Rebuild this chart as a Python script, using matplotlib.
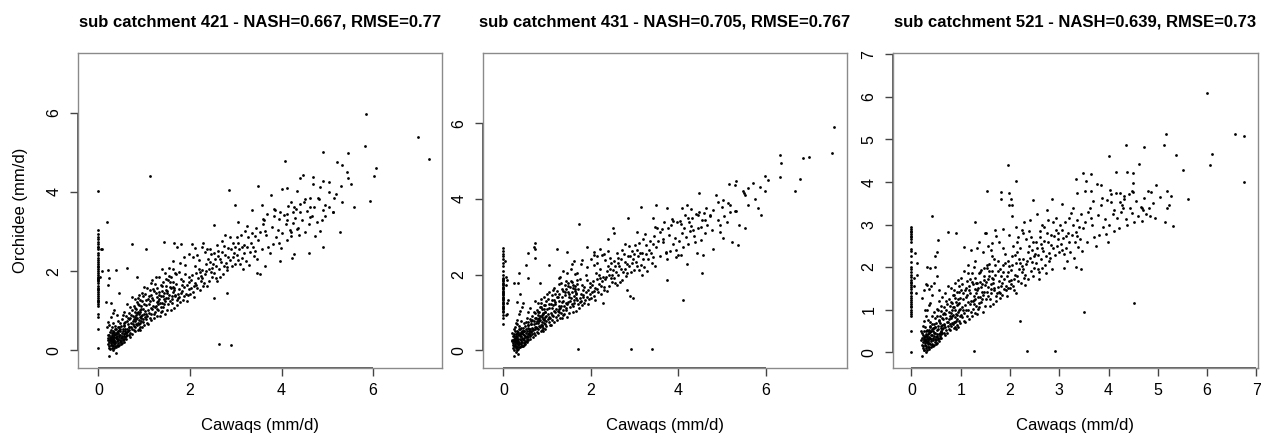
"""Cawaqs vs Orchidee daily runoff scatter, three sub catchments (R-style panels)."""
import numpy as np
import matplotlib
matplotlib.use("Agg")
import matplotlib.pyplot as plt

plt.rcParams["font.family"] = ["Liberation Sans", "DejaVu Sans"]

# ======================= sub catchment 421 =======================
zero_421 = [0.05, 0.55, 0.85, 0.93, 1.12, 1.18, 1.22, 1.25, 1.28, 1.33, 1.38, 1.42,
            1.47, 1.52, 1.55, 1.58, 1.63, 1.70, 1.74, 1.78, 1.80, 1.82, 1.86, 1.90,
            1.95, 2.00, 2.06, 2.10, 2.12, 2.17, 2.22, 2.27, 2.33, 2.40, 2.47, 2.55,
            2.60, 2.62, 2.68, 2.74, 2.80, 2.86, 2.93, 3.05, 4.02]
cloud_421 = [
    (0.31, 0.22), (0.27, 0.35), (0.42, 0.18), (0.36, 0.41), (0.24, 0.12), (0.52, 0.33), (0.29, 0.07), (0.45, 0.52),
    (0.33, 0.28), (0.21, 0.31), (0.39, 0.09), (0.48, 0.26), (0.26, 0.46), (0.57, 0.41), (0.34, 0.16), (0.41, 0.37),
    (0.23, 0.22), (0.61, 0.29), (0.37, 0.55), (0.30, 0.40), (0.46, 0.14), (0.28, 0.19), (0.54, 0.49), (0.35, 0.05),
    (0.43, 0.30), (0.25, 0.27), (0.50, 0.61), (0.32, 0.34), (0.40, 0.23), (0.59, 0.55), (0.22, 0.15), (0.47, 0.39),
    (0.38, 0.31), (0.55, 0.21), (0.29, 0.26), (0.44, 0.44), (0.33, 0.11), (0.63, 0.47), (0.26, 0.03), (0.51, 0.37),
    (0.36, 0.20), (0.42, 0.58), (0.31, 0.48), (0.58, 0.33), (0.24, 0.39), (0.49, 0.17), (0.35, 0.33), (0.66, 0.58),
    (0.28, 0.29), (0.40, 0.45), (0.53, 0.27), (0.30, 0.13), (0.45, 0.33), (0.37, 0.62), (0.62, 0.38), (0.27, 0.23),
    (0.48, 0.50), (0.34, 0.38), (0.56, 0.64), (0.41, 0.14), (0.20, 0.26), (0.60, 0.44), (0.32, 0.21), (0.44, 0.25),
    (0.38, 0.42), (0.68, 0.52), (0.25, 0.33), (0.52, 0.45), (0.35, 0.27), (0.47, 0.21), (0.29, 0.44), (0.64, 0.67),
    (0.39, 0.35), (0.57, 0.30), (0.23, 0.07), (0.43, 0.49), (0.31, 0.30), (0.50, 0.24), (0.36, 0.10), (0.70, 0.45),
    (0.27, 0.52), (0.46, 0.58), (0.33, 0.43), (0.55, 0.36), (0.40, 0.28), (0.62, 0.55), (0.30, 0.35), (0.49, 0.31),
    (0.37, 0.18), (0.66, 0.40), (0.22, 0.40), (0.53, 0.54), (0.34, 0.24), (0.45, 0.40), (0.28, 0.14), (0.59, 0.48),
    (0.41, 0.47), (0.72, 0.60), (0.26, 0.28), (0.51, 0.19), (0.38, 0.53), (0.61, 0.36), (0.32, 0.02), (0.44, 0.12),
    (0.35, 0.46), (0.54, 0.28), (0.23, -0.15), (0.38, -0.07), (0.29, 0.60), (0.48, 0.70), (0.42, 0.75), (0.33, 0.68),
    (0.58, 0.72), (0.67, 0.78), (0.19, 0.60), (0.21, 0.72), (0.24, 0.65), (0.28, 0.85), (0.31, 0.95), (0.35, 1.02),
    (0.40, 0.90), (0.74, 0.55), (0.71, 0.68), (0.65, 0.50), (0.69, 0.33),
    (0.52, 0.78), (0.61, 0.88), (0.57, 0.62), (0.66, 0.95), (0.73, 1.02), (0.69, 0.82), (0.77, 1.12), (0.84, 1.22),
    (0.80, 1.08), (0.92, 1.28), (0.97, 1.38), (0.89, 1.15), (1.02, 1.42), (1.08, 1.30), (1.12, 1.52), (1.16, 1.40),
    (1.22, 1.50), (1.28, 1.58), (1.33, 1.48), (1.37, 1.66), (1.42, 1.72), (1.48, 1.62), (1.53, 1.78), (1.58, 1.85),
    (1.63, 1.72), (1.68, 1.95), (0.48, 0.55), (0.56, 0.70), (0.63, 0.74), (0.71, 0.90), (0.75, 0.66), (0.82, 0.90),
    (0.87, 0.98), (0.94, 1.05), (0.99, 1.16), (1.05, 0.92), (1.11, 1.18), (1.19, 1.28), (1.24, 1.10), (1.31, 1.24),
    (1.36, 1.36), (1.44, 1.30), (1.50, 1.45), (1.56, 1.60), (1.61, 1.36), (1.66, 1.58), (0.59, 0.45), (0.67, 0.60),
    (0.73, 0.42), (0.79, 0.48), (0.64, 0.82), (0.70, 1.10), (0.86, 1.32), (1.00, 1.60), (1.14, 1.70), (1.26, 1.85),
    (1.40, 1.50), (1.47, 1.80), (0.54, 0.90), (0.91, 0.52),
]
band_421 = [
    (0.78, 0.62), (0.91, 0.84), (0.83, 1.05), (0.97, 0.71), (0.76, 0.88), (0.88, 0.55), (0.94, 1.12), (0.81, 0.74),
    (0.99, 0.93), (0.86, 0.68), (0.79, 0.97), (0.92, 0.60), (0.85, 0.81), (0.96, 1.25), (0.77, 0.51), (0.89, 0.92),
    (0.82, 0.66), (0.98, 0.79), (0.87, 1.18), (0.93, 0.73), (0.80, 0.85), (0.95, 0.58), (0.84, 0.94), (0.90, 0.70),
    (0.76, 0.73), (0.97, 1.04), (0.86, 0.52), (0.83, 0.79), (0.92, 0.98), (0.99, 0.65), (0.81, 1.30), (0.88, 0.77),
    (0.94, 0.86), (0.78, 0.80), (0.91, 1.01), (0.85, 0.63), (0.96, 0.90), (0.89, 0.66), (0.80, 0.58), (0.93, 0.82),
    (1.03, 0.78), (1.18, 1.05), (1.09, 0.67), (1.27, 1.22), (1.42, 1.10), (1.14, 0.93), (1.36, 0.96), (1.05, 1.15),
    (1.22, 0.82), (1.48, 1.31), (1.11, 1.38), (1.31, 1.02), (1.45, 0.91), (1.07, 0.88), (1.25, 1.46), (1.39, 1.20),
    (1.16, 0.76), (1.02, 0.99), (1.33, 1.30), (1.47, 1.52), (1.20, 1.12), (1.29, 0.88), (1.13, 1.24), (1.41, 1.36),
    (1.06, 0.70), (1.24, 0.97), (1.37, 1.09), (1.19, 1.55), (1.44, 1.17), (1.10, 0.95), (1.32, 1.41), (1.01, 0.84),
    (1.27, 1.05), (1.49, 1.02), (1.15, 1.08), (1.35, 1.19), (1.21, 0.91), (1.08, 1.02), (1.43, 1.44), (1.26, 1.13),
    (1.12, 0.81), (1.38, 0.99), (1.04, 1.26), (1.30, 1.16), (1.46, 1.25), (1.17, 1.32), (1.23, 1.68), (1.40, 1.62),
    (1.34, 0.87), (1.28, 1.34),
    (1.52, 1.18), (1.68, 1.36), (1.59, 1.02), (1.77, 1.55), (1.91, 1.43), (1.63, 1.61), (1.84, 1.28), (1.55, 1.40),
    (1.72, 1.15), (1.97, 1.72), (1.61, 1.29), (1.80, 1.80), (1.94, 1.25), (1.57, 1.73), (1.75, 1.42), (1.88, 1.60),
    (1.66, 1.08), (1.53, 1.33), (1.83, 1.50), (1.99, 1.55), (1.70, 1.68), (1.79, 1.22), (1.62, 1.47), (1.90, 1.92),
    (1.56, 1.25), (1.74, 1.31), (1.87, 1.38), (1.69, 1.92), (1.95, 1.40), (1.60, 1.19), (1.82, 1.65), (1.51, 1.51),
    (1.77, 1.35), (1.98, 1.86), (1.65, 1.52), (1.85, 1.74), (1.71, 1.26), (1.58, 1.58), (1.93, 1.66), (1.76, 1.98),
    (1.64, 2.05), (1.89, 2.15), (1.54, 1.88), (1.81, 1.45), (1.67, 1.41),
    (2.03, 1.58), (2.18, 1.82), (2.09, 1.35), (2.27, 2.02), (2.42, 1.75), (2.14, 1.66), (2.36, 2.18), (2.05, 1.90),
    (2.22, 1.52), (2.48, 2.08), (2.11, 2.12), (2.31, 1.71), (2.45, 1.98), (2.07, 1.47), (2.25, 1.88), (2.39, 2.31),
    (2.16, 1.57), (2.02, 1.78), (2.33, 1.94), (2.47, 2.42), (2.20, 2.28), (2.29, 1.63), (2.13, 1.95), (2.41, 2.05),
    (2.06, 2.35), (2.24, 1.76), (2.37, 1.62), (2.19, 2.06), (2.44, 2.22), (2.10, 1.70), (2.32, 2.48), (2.01, 1.42),
    (2.27, 1.83), (2.49, 1.86), (2.15, 2.40), (2.35, 2.00), (2.21, 1.98), (2.08, 1.62), (2.43, 2.55), (2.26, 2.62),
    (2.53, 1.95), (2.68, 2.22), (2.59, 1.76), (2.77, 2.41), (2.91, 2.13), (2.63, 2.05), (2.84, 2.58), (2.55, 2.30),
    (2.72, 1.92), (2.97, 2.47), (2.61, 2.52), (2.80, 2.02), (2.94, 2.70), (2.57, 2.14), (2.75, 2.63), (2.88, 2.28),
    (2.66, 1.86), (2.52, 2.45), (2.83, 2.35), (2.99, 2.19), (2.70, 2.75), (2.79, 2.20), (2.62, 2.38), (2.90, 2.55),
    (2.56, 1.82), (2.74, 2.12), (2.87, 2.85), (2.69, 2.48), (2.95, 2.36), (2.60, 2.66), (2.82, 2.10), (2.51, 2.18),
    (2.77, 2.90), (2.98, 2.60), (2.65, 2.30),
    (3.03, 2.40), (3.18, 2.65), (3.09, 2.18), (3.27, 2.85), (3.42, 2.52), (3.14, 2.32), (3.36, 2.95), (3.05, 2.72),
    (3.22, 2.25), (3.48, 2.78), (3.11, 2.90), (3.31, 2.48), (3.45, 3.10), (3.07, 2.55), (3.25, 2.60), (3.39, 2.38),
    (3.16, 2.05), (3.02, 2.85), (3.33, 2.70), (3.47, 2.30), (3.20, 3.02), (3.29, 2.15), (3.13, 2.62), (3.41, 2.88),
    (3.06, 2.28), (3.24, 3.15), (3.37, 2.62), (3.19, 2.45),
    (3.53, 2.98), (3.71, 2.62), (3.62, 3.28), (3.88, 2.85), (4.05, 3.42), (3.57, 2.55), (3.79, 3.12), (3.95, 2.70),
    (4.18, 3.05), (3.66, 2.90), (4.32, 3.58), (3.84, 3.38), (4.11, 2.78), (3.59, 3.20), (4.26, 3.22), (3.92, 3.05),
    (4.44, 3.30), (3.74, 2.45), (4.02, 2.95), (4.38, 2.92), (3.68, 3.45), (4.15, 3.65), (3.97, 3.48), (4.55, 3.52),
    (4.21, 2.88), (3.81, 2.68), (4.48, 3.75), (4.09, 3.18), (4.66, 3.40), (3.64, 3.02), (4.29, 3.35), (4.72, 3.62),
    (3.99, 2.58), (4.35, 3.10), (4.60, 3.18), (3.86, 3.55), (4.24, 3.48), (4.80, 3.85), (4.52, 2.98), (4.12, 3.30),
    (4.91, 3.55), (4.41, 3.70), (5.04, 3.62), (4.77, 3.25), (5.18, 3.95), (4.63, 3.85), (5.33, 3.75), (4.96, 3.38),
    (5.52, 4.20), (5.12, 3.48),
]
sparse_421 = [
    (0.62, 1.18), (0.74, 1.35), (0.95, 1.45), (1.06, 1.58), (0.88, 1.40), (1.18, 1.78), (1.32, 1.85), (1.45, 1.95),
    (1.55, 2.08), (1.62, 2.25), (1.78, 2.20), (1.86, 2.35), (1.99, 2.42), (2.12, 2.58), (2.28, 2.70), (2.38, 2.55),
    (1.72, 2.62), (2.05, 2.68), (1.38, 2.05), (0.55, 0.98),
    (5.85, 5.96), (6.98, 5.38), (7.21, 4.83), (5.82, 5.17), (4.91, 5.00), (5.45, 4.98), (4.07, 4.79), (5.21, 4.75),
    (5.31, 4.68), (6.07, 4.60), (5.43, 4.51), (5.46, 4.36), (6.01, 4.41), (1.12, 4.40), (4.47, 4.43), (4.40, 4.34),
    (4.68, 4.38), (4.91, 4.27), (5.03, 4.26), (3.49, 4.15), (5.30, 4.14), (4.68, 4.21), (4.83, 4.13), (2.85, 4.04),
    (4.01, 4.07), (4.12, 4.10), (4.34, 4.02), (5.03, 4.00), (4.52, 3.83), (5.14, 3.85), (4.82, 3.83), (5.93, 3.76),
    (3.76, 3.91), (2.98, 3.66), (5.58, 3.62), (3.58, 3.66), (3.83, 3.57), (3.36, 3.55), (4.20, 3.74), (4.27, 3.62),
    (4.63, 3.62), (4.96, 3.66), (5.13, 3.49), (4.41, 3.49), (4.12, 3.45), (2.52, 3.17), (3.04, 3.25), (3.59, 3.32),
    (3.94, 3.32), (4.63, 3.36), (4.88, 3.28), (5.27, 2.98), (4.74, 2.89), (4.85, 3.02), (4.34, 3.06), (4.20, 2.98),
    (4.60, 2.47), (4.90, 2.60), (4.27, 2.43), (3.96, 2.26), (4.23, 2.34), (3.47, 1.96), (3.65, 2.13), (3.54, 1.94),
    (2.81, 1.45), (2.52, 1.32), (2.63, 0.17), (2.89, 0.13), (1.43, 2.74), (1.65, 2.71), (0.74, 2.68), (1.80, 2.68),
    (1.05, 2.55), (0.63, 2.09), (0.85, 1.85), (0.38, 2.03), (0.18, 3.25), (0.09, 2.55), (0.20, 2.04), (0.21, 1.66),
    (0.16, 1.23), (0.27, 1.19), (0.45, 1.45), (0.23, 1.83), (0.05, 2.55), (0.07, 2.00), (0.04, 1.85),
]

# ======================= sub catchment 431 =======================
zero_431 = [0.70, 0.85, 0.92, 1.00, 1.05, 1.08, 1.12, 1.15, 1.18, 1.22, 1.25, 1.28,
            1.32, 1.35, 1.38, 1.42, 1.45, 1.48, 1.52, 1.55, 1.58, 1.62, 1.65, 1.68,
            1.72, 1.75, 1.78, 1.82, 1.85, 1.88, 1.92, 2.00, 2.10, 2.22, 2.30, 2.40,
            2.48, 2.55, 2.62, 2.70]
cloud_431 = [
    (0.30, 0.20), (0.26, 0.33), (0.41, 0.16), (0.35, 0.43), (0.23, 0.10), (0.51, 0.35), (0.28, 0.05), (0.44, 0.50),
    (0.32, 0.26), (0.20, 0.28), (0.38, 0.08), (0.47, 0.28), (0.25, 0.44), (0.56, 0.43), (0.33, 0.14), (0.40, 0.39),
    (0.22, 0.20), (0.60, 0.31), (0.36, 0.57), (0.29, 0.38), (0.45, 0.12), (0.27, 0.17), (0.53, 0.51), (0.34, 0.03),
    (0.42, 0.32), (0.24, 0.25), (0.49, 0.63), (0.31, 0.36), (0.39, 0.21), (0.58, 0.57), (0.21, 0.13), (0.46, 0.41),
    (0.37, 0.29), (0.54, 0.23), (0.28, 0.24), (0.43, 0.46), (0.32, 0.09), (0.62, 0.49), (0.25, 0.01), (0.50, 0.39),
    (0.35, 0.18), (0.41, 0.60), (0.30, 0.50), (0.57, 0.35), (0.23, 0.37), (0.48, 0.15), (0.34, 0.31), (0.65, 0.60),
    (0.27, 0.27), (0.39, 0.47), (0.52, 0.25), (0.29, 0.11), (0.44, 0.31), (0.36, 0.64), (0.61, 0.40), (0.26, 0.21),
    (0.47, 0.52), (0.33, 0.40), (0.55, 0.66), (0.40, 0.12), (0.19, 0.24), (0.59, 0.46), (0.31, 0.19), (0.43, 0.23),
    (0.37, 0.44), (0.67, 0.54), (0.24, 0.31), (0.51, 0.47), (0.34, 0.25), (0.46, 0.19), (0.28, 0.42), (0.63, 0.69),
    (0.38, 0.37), (0.56, 0.28), (0.22, 0.05), (0.42, 0.51), (0.30, 0.28), (0.49, 0.22), (0.35, 0.08), (0.69, 0.47),
    (0.26, 0.50), (0.45, 0.60), (0.32, 0.45), (0.54, 0.38), (0.39, 0.26), (0.61, 0.57), (0.29, 0.33), (0.48, 0.33),
    (0.36, 0.16), (0.65, 0.42), (0.21, 0.38), (0.52, 0.56), (0.33, 0.22), (0.44, 0.42), (0.27, 0.12), (0.58, 0.50),
    (0.40, 0.49), (0.71, 0.62), (0.25, 0.26), (0.50, 0.17), (0.37, 0.55), (0.60, 0.38), (0.31, 0.00), (0.43, 0.10),
    (0.34, 0.48), (0.53, 0.30), (0.23, -0.16), (0.33, -0.10), (0.28, -0.04), (0.47, 0.72), (0.41, 0.78), (0.32, 0.70),
    (0.57, 0.74), (0.66, 0.80), (0.20, 0.45), (0.23, 0.55), (0.26, 0.62), (0.29, 0.72), (0.32, 0.80), (0.35, 0.95),
    (0.38, 1.05), (0.42, 1.15), (0.45, 1.25), (0.73, 0.57), (0.70, 0.70), (0.64, 0.52), (0.68, 0.35),
    (0.52, 0.74), (0.61, 0.84), (0.57, 0.60), (0.66, 0.90), (0.73, 0.98), (0.69, 0.78), (0.77, 1.06), (0.84, 1.15),
    (0.80, 1.02), (0.92, 1.20), (0.97, 1.30), (0.89, 1.08), (1.02, 1.35), (1.08, 1.22), (1.12, 1.45), (1.16, 1.32),
    (1.22, 1.42), (1.28, 1.50), (1.33, 1.40), (1.37, 1.58), (1.42, 1.62), (1.48, 1.55), (1.53, 1.68), (1.58, 1.72),
    (1.63, 1.62), (1.68, 1.85), (0.48, 0.52), (0.56, 0.66), (0.63, 0.70), (0.71, 0.86), (0.75, 0.62), (0.82, 0.86),
    (0.87, 0.94), (0.94, 1.00), (0.99, 1.10), (1.05, 0.88), (1.11, 1.12), (1.19, 1.22), (1.24, 1.05), (1.31, 1.18),
    (1.36, 1.30), (1.44, 1.25), (1.50, 1.40), (1.56, 1.55), (1.61, 1.32), (1.66, 1.52), (0.59, 0.42), (0.67, 0.56),
    (0.73, 0.40), (0.79, 0.46), (0.64, 0.78), (0.70, 1.02), (0.86, 1.25), (1.00, 1.50), (1.14, 1.60), (1.26, 1.75),
    (1.40, 1.45), (1.47, 1.78), (0.54, 0.86), (0.91, 0.50),
]
band_431 = [
    (0.77, 0.60), (0.90, 0.82), (0.82, 1.02), (0.96, 0.69), (0.75, 0.86), (0.87, 0.53), (0.93, 1.08), (0.80, 0.72),
    (0.98, 0.90), (0.85, 0.66), (0.78, 0.94), (0.91, 0.58), (0.84, 0.79), (0.95, 1.20), (0.76, 0.49), (0.88, 0.89),
    (0.81, 0.64), (0.97, 0.77), (0.86, 1.14), (0.92, 0.71), (0.79, 0.83), (0.94, 0.56), (0.83, 0.91), (0.89, 0.68),
    (0.75, 0.71), (0.96, 1.00), (0.85, 0.50), (0.82, 0.77), (0.91, 0.95), (0.98, 0.63), (0.80, 1.25), (0.87, 0.75),
    (0.93, 0.84), (0.77, 0.78), (0.90, 0.98), (0.84, 0.61), (0.95, 0.87), (0.88, 0.64), (0.79, 0.56), (0.92, 0.80),
    (1.03, 0.76), (1.18, 1.02), (1.09, 0.66), (1.27, 1.18), (1.42, 1.07), (1.14, 0.90), (1.36, 0.93), (1.05, 1.12),
    (1.22, 0.80), (1.48, 1.27), (1.11, 1.33), (1.31, 0.99), (1.45, 0.89), (1.07, 0.86), (1.25, 1.40), (1.39, 1.16),
    (1.16, 0.74), (1.02, 0.96), (1.33, 1.28), (1.47, 1.70), (1.20, 1.09), (1.29, 0.86), (1.13, 1.20), (1.41, 1.55),
    (1.06, 0.68), (1.24, 0.94), (1.37, 1.06), (1.19, 1.48), (1.44, 1.13), (1.10, 0.92), (1.32, 1.78), (1.01, 0.82),
    (1.27, 1.02), (1.49, 0.99), (1.15, 1.05), (1.35, 1.62), (1.21, 0.88), (1.08, 0.99), (1.43, 1.82), (1.26, 1.10),
    (1.12, 0.79), (1.38, 0.96), (1.04, 1.22), (1.30, 1.13), (1.46, 1.22), (1.17, 1.28), (1.23, 1.58), (1.40, 1.72),
    (1.34, 0.85), (1.28, 1.30),
    (1.52, 1.15), (1.68, 1.32), (1.59, 1.00), (1.77, 1.50), (1.91, 1.40), (1.63, 1.58), (1.84, 1.25), (1.55, 1.38),
    (1.72, 1.12), (1.97, 1.66), (1.61, 1.26), (1.80, 1.72), (1.94, 1.22), (1.57, 1.80), (1.75, 1.38), (1.88, 1.55),
    (1.66, 1.05), (1.53, 1.30), (1.83, 1.46), (1.99, 1.50), (1.70, 1.62), (1.79, 1.19), (1.62, 1.44), (1.90, 1.85),
    (1.56, 1.22), (1.74, 1.28), (1.87, 1.34), (1.69, 1.75), (1.95, 1.36), (1.60, 1.16), (1.82, 1.59), (1.51, 1.48),
    (1.77, 1.31), (1.98, 1.78), (1.65, 1.48), (1.85, 1.68), (1.71, 1.22), (1.58, 1.65), (1.93, 1.60), (1.76, 1.88),
    (1.64, 1.70), (1.89, 2.00), (1.54, 1.84), (1.81, 1.41), (1.67, 1.38),
    (2.03, 1.54), (2.18, 1.76), (2.09, 1.32), (2.27, 1.95), (2.42, 1.70), (2.14, 1.62), (2.36, 2.10), (2.05, 1.84),
    (2.22, 1.48), (2.48, 2.00), (2.11, 2.05), (2.31, 1.66), (2.45, 1.92), (2.07, 1.44), (2.25, 1.82), (2.39, 2.22),
    (2.16, 1.53), (2.02, 1.72), (2.33, 1.88), (2.47, 2.30), (2.20, 2.15), (2.29, 1.59), (2.13, 1.88), (2.41, 1.98),
    (2.06, 2.25), (2.24, 1.70), (2.37, 1.58), (2.19, 1.99), (2.44, 2.14), (2.10, 1.65), (2.32, 2.38), (2.01, 1.38),
    (2.27, 1.24), (2.49, 1.80), (2.15, 2.30), (2.35, 1.94), (2.21, 1.92), (2.08, 1.58), (2.43, 2.45), (2.26, 2.52),
    (2.53, 1.90), (2.68, 2.15), (2.59, 1.72), (2.77, 2.34), (2.91, 2.08), (2.63, 1.98), (2.84, 2.50), (2.55, 2.22),
    (2.72, 1.86), (2.97, 2.40), (2.61, 2.44), (2.80, 1.96), (2.94, 2.62), (2.57, 2.08), (2.75, 2.55), (2.88, 2.22),
    (2.66, 1.80), (2.52, 2.36), (2.83, 2.28), (2.99, 2.12), (2.70, 2.66), (2.79, 2.14), (2.62, 2.30), (2.90, 2.48),
    (2.56, 1.78), (2.74, 2.06), (2.87, 2.76), (2.69, 2.40), (2.95, 2.30), (2.60, 2.58), (2.82, 2.04), (2.51, 2.12),
    (2.77, 2.80), (2.98, 2.54), (2.65, 2.24),
    (3.03, 2.34), (3.18, 2.58), (3.09, 2.12), (3.27, 2.78), (3.42, 2.46), (3.14, 2.26), (3.36, 2.88), (3.05, 2.66),
    (3.22, 2.20), (3.48, 2.72), (3.11, 2.84), (3.31, 2.42), (3.45, 3.02), (3.07, 2.48), (3.25, 2.54), (3.39, 2.32),
    (3.16, 2.00), (3.02, 2.78), (3.33, 2.64), (3.47, 2.24), (3.20, 2.95), (3.29, 2.10), (3.13, 2.56), (3.41, 2.80),
    (3.06, 2.22), (3.24, 3.08), (3.37, 2.56), (3.19, 2.40),
    (3.53, 2.90), (3.71, 2.58), (3.62, 3.20), (3.88, 2.80), (4.05, 3.35), (3.57, 2.50), (3.79, 3.05), (3.95, 2.65),
    (4.18, 3.00), (3.66, 2.85), (4.32, 3.50), (3.84, 3.30), (4.11, 2.72), (3.59, 3.12), (4.26, 3.15), (3.92, 2.98),
    (4.44, 3.22), (3.74, 2.42), (4.02, 2.88), (4.38, 2.85), (3.68, 3.38), (4.15, 3.58), (3.97, 3.40), (4.55, 3.45),
    (4.21, 2.82), (3.81, 2.62), (4.48, 3.65), (4.09, 3.10), (4.66, 3.32), (3.64, 2.95), (4.29, 3.28), (4.72, 3.55),
    (3.99, 2.52), (4.35, 3.02), (4.60, 3.10), (3.86, 3.48), (4.24, 3.40), (4.80, 3.72), (4.52, 2.92), (4.12, 3.22),
    (4.91, 3.45), (4.41, 3.60), (5.04, 3.55), (4.77, 3.18), (5.18, 3.85), (4.63, 3.75), (5.33, 3.68), (4.96, 3.30),
    (5.52, 4.10), (5.12, 3.40),
]
sparse_431 = [
    (0.60, 1.12), (0.72, 1.30), (0.93, 1.40), (1.04, 1.55), (0.86, 1.35), (1.15, 1.65), (1.30, 1.95), (1.45, 2.05),
    (1.55, 2.15), (1.68, 2.05), (1.78, 2.28), (1.92, 2.20), (2.00, 2.42), (2.15, 2.48), (2.30, 2.55), (2.40, 2.62),
    (1.62, 2.35), (2.08, 2.60), (1.36, 2.10), (0.55, 1.00),
    (7.55, 5.90), (7.52, 5.21), (6.32, 5.16), (6.36, 4.94), (6.85, 5.09), (6.98, 5.12), (6.32, 4.57), (6.78, 4.53),
    (6.67, 4.21), (5.99, 4.62), (6.04, 4.50), (5.98, 4.21), (5.87, 4.31), (5.33, 4.47), (5.16, 4.40), (5.29, 4.38),
    (5.70, 4.41), (5.60, 4.28), (5.47, 4.22), (5.50, 4.15), (4.48, 4.15), (4.87, 4.10), (4.90, 3.93), (5.03, 3.97),
    (4.99, 3.80), (5.14, 3.90), (5.18, 3.66), (5.29, 3.69), (5.75, 3.99), (5.60, 3.84), (5.83, 3.75), (5.90, 3.57),
    (5.39, 3.31), (5.52, 3.24), (5.23, 2.87), (5.37, 2.78), (5.03, 2.96), (4.95, 3.13), (4.80, 2.69), (4.57, 2.52),
    (4.53, 2.03), (4.11, 1.34), (3.50, 3.84), (3.75, 3.75), (4.08, 3.75), (4.19, 3.84), (4.28, 3.73), (3.15, 3.78),
    (2.86, 3.50), (2.50, 3.22), (2.52, 3.09), (1.72, 3.35), (2.40, 2.93), (3.05, 3.12), (3.43, 3.49), (3.47, 3.27),
    (3.52, 3.22), (3.77, 3.22), (3.87, 3.42), (4.04, 3.42), (4.21, 3.49), (4.46, 3.57), (4.59, 3.62), (4.72, 3.57),
    (4.61, 3.44), (4.52, 3.27), (4.34, 3.18), (4.42, 2.56), (4.06, 2.52), (4.19, 2.29), (3.95, 2.47), (3.73, 1.85),
    (3.71, 2.60), (2.82, 1.59), (2.89, 1.43), (2.97, 1.39), (1.70, 0.03), (2.91, 0.04), (3.39, 0.04), (1.22, 2.69),
    (0.72, 2.84), (0.72, 2.67), (0.72, 2.44), (0.69, 2.74), (0.56, 2.58), (0.52, 2.25), (0.35, 2.05), (0.23, 1.77),
    (0.34, 1.77), (0.09, 1.85), (0.06, 1.72), (0.09, 0.97), (0.11, 1.32), (0.38, 1.50), (0.30, 1.28), (0.57, 1.90),
    (1.03, 2.25), (1.45, 2.60), (1.79, 2.38), (1.90, 2.74), (2.06, 2.52), (2.21, 2.69), (0.84, 1.77), (1.26, 1.90),
    (1.56, 2.29), (1.64, 2.02), (0.05, 1.95), (0.04, 2.35), (0.08, 1.25), (0.06, 0.92),
]

# ======================= sub catchment 521 =======================
zero_521 = [0.00, 0.49, 0.85, 0.90, 0.95, 1.00, 1.05, 1.08, 1.12, 1.18, 1.22, 1.28,
            1.32, 1.38, 1.42, 1.48, 1.52, 1.58, 1.62, 1.65, 1.70, 1.76, 1.82, 1.88,
            1.95, 2.00, 2.12, 2.25, 2.38, 2.42, 2.60, 2.66, 2.70, 2.72, 2.78, 2.82,
            2.84, 2.90, 2.95]
cloud_521 = [
    (0.31, 0.24), (0.27, 0.37), (0.42, 0.20), (0.36, 0.45), (0.24, 0.14), (0.52, 0.38), (0.29, 0.09), (0.45, 0.56),
    (0.33, 0.30), (0.21, 0.33), (0.39, 0.12), (0.48, 0.30), (0.26, 0.49), (0.57, 0.46), (0.34, 0.18), (0.41, 0.41),
    (0.23, 0.24), (0.61, 0.34), (0.37, 0.60), (0.30, 0.42), (0.46, 0.17), (0.28, 0.21), (0.54, 0.55), (0.35, 0.07),
    (0.43, 0.34), (0.25, 0.29), (0.50, 0.68), (0.32, 0.38), (0.40, 0.25), (0.59, 0.62), (0.22, 0.17), (0.47, 0.44),
    (0.38, 0.33), (0.55, 0.26), (0.29, 0.28), (0.44, 0.50), (0.33, 0.13), (0.63, 0.54), (0.26, 0.05), (0.51, 0.42),
    (0.36, 0.22), (0.42, 0.65), (0.31, 0.53), (0.58, 0.38), (0.24, 0.41), (0.49, 0.20), (0.35, 0.36), (0.66, 0.66),
    (0.28, 0.31), (0.40, 0.50), (0.53, 0.31), (0.30, 0.15), (0.45, 0.37), (0.37, 0.70), (0.62, 0.44), (0.27, 0.25),
    (0.48, 0.58), (0.34, 0.43), (0.56, 0.74), (0.41, 0.16), (0.20, 0.28), (0.60, 0.50), (0.32, 0.23), (0.44, 0.28),
    (0.38, 0.48), (0.68, 0.60), (0.25, 0.36), (0.52, 0.52), (0.35, 0.30), (0.47, 0.24), (0.29, 0.50), (0.64, 0.78),
    (0.39, 0.40), (0.57, 0.34), (0.23, 0.09), (0.43, 0.57), (0.31, 0.33), (0.50, 0.28), (0.36, 0.12), (0.70, 0.52),
    (0.27, 0.58), (0.46, 0.67), (0.33, 0.49), (0.55, 0.42), (0.40, 0.31), (0.62, 0.64), (0.30, 0.38), (0.49, 0.36),
    (0.37, 0.20), (0.66, 0.46), (0.22, 0.44), (0.53, 0.62), (0.34, 0.27), (0.45, 0.46), (0.28, 0.16), (0.59, 0.56),
    (0.41, 0.54), (0.72, 0.70), (0.26, 0.31), (0.51, 0.22), (0.38, 0.61), (0.61, 0.42), (0.32, 0.04), (0.44, 0.14),
    (0.35, 0.53), (0.54, 0.33), (0.22, -0.10), (0.25, 0.05), (0.30, 0.00), (0.48, 0.80), (0.42, 0.86), (0.33, 0.76),
    (0.58, 0.84), (0.67, 0.92), (0.20, 0.50), (0.23, 0.62), (0.26, 0.72), (0.29, 0.85), (0.32, 0.98), (0.35, 1.10),
    (0.38, 1.15), (0.28, 1.00), (0.45, 0.95), (0.52, 1.02), (0.60, 1.08), (0.74, 0.62), (0.71, 0.80), (0.65, 0.56),
    (0.69, 0.40),
    (0.52, 0.85), (0.61, 0.96), (0.57, 0.68), (0.66, 1.05), (0.73, 1.12), (0.69, 0.90), (0.77, 1.25), (0.84, 1.35),
    (0.80, 1.18), (0.92, 1.42), (0.97, 1.55), (0.89, 1.28), (1.02, 1.60), (1.08, 1.45), (1.12, 1.68), (1.16, 1.55),
    (1.22, 1.65), (1.28, 1.75), (1.33, 1.62), (1.37, 1.85), (1.42, 1.92), (1.48, 1.80), (1.53, 1.98), (1.58, 2.08),
    (1.63, 1.90), (1.68, 2.18), (0.48, 0.60), (0.56, 0.76), (0.63, 0.80), (0.71, 0.98), (0.75, 0.70), (0.82, 0.98),
    (0.87, 1.06), (0.94, 1.14), (0.99, 1.28), (1.05, 1.00), (1.11, 1.30), (1.19, 1.40), (1.24, 1.20), (1.31, 1.38),
    (1.36, 1.50), (1.44, 1.42), (1.50, 1.58), (1.56, 1.72), (1.61, 1.48), (1.66, 1.72), (0.59, 0.48), (0.67, 0.64),
    (0.73, 0.45), (0.79, 0.52), (0.64, 0.90), (0.70, 1.20), (0.86, 1.45), (1.00, 1.75), (1.14, 1.85), (1.26, 2.00),
    (1.40, 1.65), (1.47, 1.98), (0.54, 1.00), (0.91, 0.55), (1.75, 1.90), (1.85, 2.05), (1.95, 2.15), (2.05, 2.25),
    (2.15, 2.35), (1.80, 1.38), (1.92, 1.45), (2.02, 1.60),
]
band_521 = [
    (0.78, 0.66), (0.91, 0.90), (0.83, 1.15), (0.97, 0.74), (0.76, 0.95), (0.88, 0.58), (0.94, 1.25), (0.81, 0.80),
    (0.99, 1.02), (0.86, 0.70), (0.79, 1.08), (0.92, 0.63), (0.85, 0.88), (0.96, 1.42), (0.77, 0.54), (0.89, 1.00),
    (0.82, 0.68), (0.98, 0.84), (0.87, 1.35), (0.93, 0.78), (0.80, 0.92), (0.95, 0.60), (0.84, 1.05), (0.90, 0.74),
    (0.76, 0.78), (0.97, 1.15), (0.86, 0.56), (0.83, 0.84), (0.92, 1.10), (0.99, 0.68), (0.81, 1.50), (0.88, 0.82),
    (0.94, 0.95), (0.78, 0.86), (0.91, 1.18), (0.85, 0.65), (0.96, 0.98), (0.89, 0.70), (0.80, 0.62), (0.93, 0.88),
    (1.03, 0.82), (1.18, 1.12), (1.09, 0.70), (1.27, 1.32), (1.42, 1.18), (1.14, 0.98), (1.36, 1.02), (1.05, 1.25),
    (1.22, 0.86), (1.48, 1.42), (1.11, 1.50), (1.31, 1.08), (1.45, 0.95), (1.07, 0.92), (1.25, 1.60), (1.39, 1.30),
    (1.16, 0.78), (1.02, 1.05), (1.33, 1.45), (1.47, 1.70), (1.20, 1.20), (1.29, 0.92), (1.13, 1.35), (1.41, 1.52),
    (1.06, 0.72), (1.24, 1.02), (1.37, 1.15), (1.19, 1.72), (1.44, 1.25), (1.10, 1.00), (1.32, 1.62), (1.01, 0.88),
    (1.27, 1.12), (1.49, 1.08), (1.15, 1.18), (1.35, 1.30), (1.21, 0.95), (1.08, 1.10), (1.43, 1.60), (1.26, 1.22),
    (1.12, 0.84), (1.38, 1.05), (1.04, 1.40), (1.30, 1.25), (1.46, 1.35), (1.17, 1.45), (1.23, 1.85), (1.40, 1.88),
    (1.34, 0.90), (1.28, 1.48),
    (1.52, 1.25), (1.68, 1.45), (1.59, 1.08), (1.77, 1.68), (1.91, 1.55), (1.63, 1.75), (1.84, 1.35), (1.55, 1.52),
    (1.72, 1.20), (1.97, 1.88), (1.61, 1.38), (1.80, 1.95), (1.94, 1.32), (1.57, 1.90), (1.75, 1.52), (1.88, 1.72),
    (1.66, 1.12), (1.53, 1.42), (1.83, 1.62), (1.99, 1.68), (1.70, 1.82), (1.79, 1.28), (1.62, 1.60), (1.90, 2.10),
    (1.56, 1.32), (1.74, 1.40), (1.87, 1.48), (1.69, 2.05), (1.95, 1.50), (1.60, 1.25), (1.82, 1.78), (1.51, 1.65),
    (1.77, 1.42), (1.98, 2.02), (1.65, 1.62), (1.85, 1.88), (1.71, 1.32), (1.58, 1.78), (1.93, 1.80), (1.76, 2.15),
    (1.64, 2.25), (1.89, 2.30), (1.54, 2.05), (1.81, 1.55), (1.67, 1.50),
    (2.03, 1.70), (2.18, 1.95), (2.09, 1.45), (2.27, 2.18), (2.42, 1.90), (2.14, 1.80), (2.36, 2.35), (2.05, 2.05),
    (2.22, 1.62), (2.48, 2.25), (2.11, 2.28), (2.31, 1.82), (2.45, 2.12), (2.07, 1.55), (2.25, 2.02), (2.39, 2.50),
    (2.16, 1.68), (2.02, 1.92), (2.33, 2.08), (2.47, 2.60), (2.20, 2.45), (2.29, 1.75), (2.13, 2.10), (2.41, 2.22),
    (2.06, 2.50), (2.24, 1.88), (2.37, 1.72), (2.19, 2.20), (2.44, 2.40), (2.10, 1.82), (2.32, 2.65), (2.01, 1.50),
    (2.27, 1.95), (2.49, 1.98), (2.15, 2.58), (2.35, 2.15), (2.21, 2.10), (2.08, 1.72), (2.43, 2.70), (2.26, 2.80),
    (2.12, 1.38), (2.30, 1.58), (2.46, 1.78), (2.17, 2.70), (2.38, 2.85),
    (2.53, 2.10), (2.68, 2.38), (2.59, 1.88), (2.77, 2.58), (2.91, 2.28), (2.63, 2.20), (2.84, 2.75), (2.55, 2.45),
    (2.72, 2.05), (2.97, 2.65), (2.61, 2.70), (2.80, 2.15), (2.94, 2.88), (2.57, 2.28), (2.75, 2.80), (2.88, 2.45),
    (2.66, 1.98), (2.52, 2.60), (2.83, 2.52), (2.99, 2.35), (2.70, 2.95), (2.79, 2.32), (2.62, 2.55), (2.90, 2.72),
    (2.56, 1.95), (2.74, 2.25), (2.87, 3.05), (2.69, 2.62), (2.95, 2.50), (2.60, 2.85), (2.82, 2.22), (2.51, 2.30),
    (2.77, 3.10), (2.98, 2.80), (2.65, 2.45), (2.58, 1.72), (2.73, 1.85), (2.86, 1.95), (2.93, 3.15), (2.64, 3.00),
    (3.03, 2.55), (3.18, 2.80), (3.09, 2.30), (3.27, 3.00), (3.42, 2.65), (3.14, 2.45), (3.36, 3.10), (3.05, 2.88),
    (3.22, 2.35), (3.48, 2.92), (3.11, 3.05), (3.31, 2.60), (3.45, 3.25), (3.07, 2.68), (3.25, 2.75), (3.39, 2.48),
    (3.16, 2.15), (3.02, 3.00), (3.33, 2.82), (3.47, 2.38), (3.20, 3.15), (3.29, 2.22), (3.13, 2.72), (3.41, 2.95),
    (3.06, 2.40), (3.24, 3.28), (3.37, 2.72), (3.19, 2.58), (3.34, 2.00), (3.44, 1.95), (3.10, 1.98), (3.28, 3.38),
    (3.53, 3.05), (3.71, 2.70), (3.62, 3.38), (3.88, 2.95), (4.05, 3.52), (3.57, 2.60), (3.79, 3.22), (3.95, 2.78),
    (4.18, 3.15), (3.66, 3.00), (4.32, 3.68), (3.84, 3.45), (4.11, 2.85), (3.59, 3.30), (4.26, 3.30), (3.92, 3.12),
    (4.44, 3.38), (3.74, 2.50), (4.02, 3.00), (4.38, 3.00), (3.68, 3.55), (4.15, 3.75), (3.97, 3.58), (4.55, 3.55),
    (4.21, 2.92), (3.81, 2.75), (4.48, 3.80), (4.09, 3.25), (4.66, 3.42), (3.64, 3.15), (4.29, 3.40), (4.72, 3.62),
    (3.99, 2.60), (4.35, 3.12), (4.60, 3.20), (3.86, 3.62), (4.24, 3.52), (4.80, 3.80), (4.52, 3.05), (4.12, 3.35),
    (4.91, 3.50), (4.41, 3.72), (5.04, 3.65), (4.77, 3.25), (5.18, 3.40),
]
sparse_521 = [
    (0.62, 1.30), (0.75, 1.55), (0.95, 1.70), (1.06, 1.90), (0.88, 1.62), (1.15, 2.05), (1.28, 2.15), (1.45, 2.35),
    (1.55, 2.50), (1.62, 2.40), (1.78, 2.60), (1.86, 2.45), (1.99, 2.75), (2.12, 2.95), (2.28, 3.05), (2.40, 3.10),
    (1.72, 2.72), (2.05, 3.20), (1.38, 2.60), (0.55, 1.20), (0.68, 1.40), (1.00, 1.45), (2.55, 3.25), (2.75, 3.35),
    (1.52, 2.80),
    (5.99, 6.09), (6.56, 5.12), (6.76, 5.09), (5.16, 5.14), (5.12, 4.87), (4.36, 4.87), (4.72, 4.82), (6.11, 4.65),
    (5.36, 4.64), (6.05, 4.39), (6.76, 3.99), (5.51, 4.28), (4.01, 4.62), (4.61, 4.43), (1.95, 4.39), (2.13, 4.02),
    (4.16, 4.24), (4.38, 4.24), (4.50, 4.21), (4.50, 3.98), (3.49, 4.22), (3.65, 4.20), (3.35, 4.06), (3.55, 4.02),
    (3.76, 3.96), (3.85, 3.94), (4.97, 3.94), (1.53, 3.80), (1.82, 3.76), (1.98, 3.74), (1.81, 3.61), (2.03, 3.60),
    (1.98, 3.46), (2.05, 3.45), (2.47, 3.57), (2.86, 3.60), (3.05, 3.48), (3.36, 3.74), (3.53, 3.80), (3.65, 3.78),
    (4.03, 3.82), (4.05, 3.72), (4.23, 3.74), (4.31, 3.60), (4.50, 3.76), (4.86, 3.76), (5.18, 3.78), (5.26, 3.66),
    (5.61, 3.61), (5.22, 3.45), (4.28, 3.45), (4.68, 3.39), (4.82, 3.39), (4.48, 3.27), (4.70, 3.35), (4.84, 3.19),
    (4.94, 3.15), (4.68, 3.09), (5.14, 3.05), (5.31, 2.97), (0.41, 3.19), (0.53, 2.64), (0.74, 2.83), (0.90, 2.81),
    (0.51, 2.36), (0.47, 2.26), (0.31, 2.01), (0.38, 1.97), (0.48, 2.01), (0.11, 1.81), (0.31, 1.57), (0.39, 1.55),
    (0.26, 1.46), (0.09, 1.38), (0.07, 2.32), (0.12, 2.09), (1.86, 2.89), (1.70, 2.87), (1.29, 3.05), (1.49, 2.80),
    (1.64, 2.56), (1.07, 2.48), (1.20, 2.40), (1.34, 2.44), (2.25, 2.87), (4.51, 1.16), (3.50, 0.94), (2.20, 0.73),
    (1.26, 0.02), (2.34, 0.02), (2.91, 0.02), (0.05, 1.75), (0.06, 1.55), (0.30, 1.60), (0.42, 1.35), (0.22, 1.28),
    (0.35, 1.48), (0.45, 1.62), (0.55, 1.45), (0.52, 1.80),
]

titles = ["sub catchment 421 - NASH=0.667, RMSE=0.77",
          "sub catchment 431 - NASH=0.705, RMSE=0.767",
          "sub catchment 521 - NASH=0.639, RMSE=0.73"]
tick_sets = [[0, 2, 4, 6], [0, 2, 4, 6], [0, 1, 2, 3, 4, 5, 6, 7]]
zero_cols = [zero_421, zero_431, zero_521]
point_sets = [cloud_421 + band_421 + sparse_421,
              cloud_431 + band_431 + sparse_431,
              cloud_521 + band_521 + sparse_521]

W, H = 1261, 434
fig = plt.figure(figsize=(W / 100, H / 100), dpi=100)
boxes = [(78, 442), (483, 847), (893, 1258)]  # plot-region left/right in px
top_px, bot_px = 53, 368

box_col = "#8a8a8a"
axis_col = "#444444"

for i, (title, zero_y, pts, ticks, (l, r)) in enumerate(
        zip(titles, zero_cols, point_sets, tick_sets, boxes)):
    ax = fig.add_axes([l / W, (H - bot_px) / H, (r - l) / W, (bot_px - top_px) / H])
    xs = np.array([0.0] * len(zero_y) + [p[0] for p in pts])
    ys = np.array(list(zero_y) + [p[1] for p in pts])

    ax.plot(xs, ys, "o", ms=2.0, mew=0, color="black")

    # R-style limits: joint range of both variables + 4 %
    lo, hi = min(xs.min(), ys.min()), max(xs.max(), ys.max())
    pad = 0.04 * (hi - lo)
    ax.set_xlim(lo - pad, hi + pad)
    ax.set_ylim(lo - pad, hi + pad)

    ax.set_xticks(ticks)
    ax.set_yticks(ticks)
    ax.tick_params(length=6, width=1, color=axis_col, labelsize=11.5, pad=5)
    ax.tick_params(axis="y", labelrotation=90, pad=6)
    for lbl in ax.get_yticklabels():
        lbl.set_va("center")
    for sp in ax.spines.values():
        sp.set_color(box_col)
        sp.set_linewidth(1.0)
    # darker axis lines spanning first..last tick, as R's axis() draws them
    ax.plot([ticks[0], ticks[-1]], [0, 0], color=axis_col, lw=1.2,
            transform=ax.get_xaxis_transform(), clip_on=False, solid_capstyle="butt")
    ax.plot([0, 0], [ticks[0], ticks[-1]], color=axis_col, lw=1.2,
            transform=ax.get_yaxis_transform(), clip_on=False, solid_capstyle="butt")

    ax.set_title(title, fontsize=12, fontweight="bold", pad=19)
    ax.set_xlabel("Cawaqs (mm/d)", fontsize=12)
    ax.xaxis.set_label_coords(0.5, -(418 - bot_px) / (bot_px - top_px))
    if i == 0:
        ax.set_ylabel("Orchidee (mm/d)", fontsize=12)
        ax.yaxis.set_label_coords(-(l - 28) / (r - l), 0.5)

fig.savefig("out.png", dpi=100)
